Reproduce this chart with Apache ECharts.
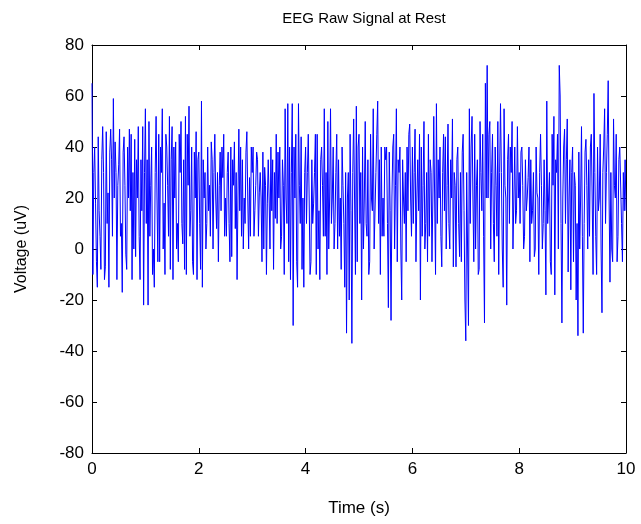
<!DOCTYPE html>
<html>
<head>
<meta charset="utf-8">
<title>EEG Raw Signal at Rest</title>
<script src="https://cdn.jsdelivr.net/npm/echarts@6/dist/echarts.min.js"></script>
<style>
  html, body { margin: 0; padding: 0; background: #fff; }
  #chart { width: 641px; height: 524px; }
</style>
</head>
<body>
<div id="chart"></div>
<script>
// sample spacing of the recording (s), 60 samples per second
var sampleStep = 1 / 60;

// voltage samples (uV), one row per half second
var voltage = [
  65, -10, 30, 40, 18, -5, -15, 44, 15, 5, -8, 35, 48, 30, -12, -7, 46, 10, 22, -15, 38, 47, 35, 5, 59, 20, 42, 30, -12, 25,
  33, 47, 5, 10, -17, 38, 44, 25, -2, -8, 40, 20, 47, 15, 45, -12, 30, 0, 43, -3, 35, 20, 48, 5, -12, 35, 15, 48, -22, 30,
  55, 10, 35, -22, 50, 5, 25, 40, -10, 0, -15, 30, 52, 20, -5, 45, -5, 40, 30, 55, 0, 18, -10, 45, 40, 25, 5, 52, -8, 35,
  48, -12, 40, 20, 42, 0, 10, -5, 45, 30, 50, 10, 2, 35, -8, 52, -10, 45, 25, 56, 5, 15, 40, -5, -10, 38, 20, 46, -12, 35,
  38, 10, -8, 58, -15, 35, 20, 30, 0, 10, 40, 15, 25, 5, 42, 35, 0, 30, 45, 20, 8, 30, -5, 25, 38, 15, 40, 28, 45, 5,
  20, 5, 30, 38, 10, -5, 40, -3, 35, 25, 42, 8, 30, -12, 20, 47, 15, 40, 5, 35, 0, 20, 10, 38, 46, 20, 0, 28, 5, 40,
  30, 40, 5, 15, 25, 38, 35, 5, 22, 30, 20, -5, 38, 0, 32, 25, -10, 18, 35, 20, 0, 40, 15, 35, -8, 30, 12, 45, 10, 38,
  20, 40, 0, 5, 35, 25, -10, 55, 20, 10, 57, -5, 40, -12, 30, 57, -30, 40, 20, 45, -5, -15, 57, 25, 10, 44, -8, 20, -15, 30,
  40, 10, 30, 45, 20, -10, -5, 35, 10, 18, 30, 45, -10, 45, 0, 15, -12, 35, 40, 25, 5, 55, 5, 30, -10, 50, 0, 20, 55, 10,
  20, 40, 0, 10, 30, 45, 0, 35, 5, 20, -8, 40, 25, 10, -15, 30, -33, 20, 30, -20, 45, 15, -37, 30, 51, 20, -10, 56, -5, 40,
  45, 10, 30, -20, 40, 0, 20, 50, 10, 5, 35, -10, -5, 45, 20, 15, 55, 0, 0, 30, 45, 58, 10, 35, -10, 40, 5, 20, 5, 40,
  35, 40, 10, -23, 38, 15, -28, 20, 40, 45, 0, 25, 55, -5, 35, 30, 40, 0, -20, 35, 20, 10, 30, -5, 40, 15, 45, 49, 20, 5,
  40, 10, 30, 47, -5, 20, 35, 15, 45, -20, 40, 5, 25, 50, 0, 10, 30, -5, 45, 5, 35, 30, -5, 20, 52, 20, -10, 57, 10, 35,
  20, 40, 5, -7, 30, 45, 15, 44, 0, 25, 49, 10, 0, 35, 20, 51, -7, 30, 25, -7, 35, 40, 10, -3, 30, -5, 38, 45, 15, -20,
  -36, 30, 0, -30, 55, 10, 40, 52, 20, -5, 45, 0, 25, 35, -10, -8, 50, 30, 15, 45, 5, -29, 65, 20, 72, 20, 45, 50, 0, 30,
  45, 10, -5, 40, 25, 5, 50, -10, 30, 57, 30, 0, -15, 55, 25, 20, -22, 35, 45, 10, 40, 30, 50, 0, 20, 40, 10, 15, 48, 20,
  30, 10, 38, 40, 25, 0, 5, 35, 15, 20, 28, 40, -5, 35, 10, 15, 30, -3, 0, 40, 22, 20, -10, 30, 45, 25, 0, 10, 35, 15,
  -18, 58, 10, 20, 30, -5, -10, 45, 25, 52, -18, 35, 30, 45, 0, 72, 60, 10, -29, 20, 40, 47, 10, 35, 51, -9, 20, 35, -16, 30,
  40, -5, 30, 25, -20, 10, -34, 38, 0, 20, 48, 5, -33, 10, 38, 43, 25, 0, 35, 5, 40, 45, 20, -10, 61, 30, 5, -10, 40, 15,
  20, 45, 0, -25, 30, 40, 55, 10, 30, 45, 66, 20, -13, 30, 0, -5, 51, 25, 20, 45, -5, 5, 35, 40, 40, 10, -5, 30, 15, 35,
  15
];

var xTicks = [0, 2, 4, 6, 8, 10];
var yTicks = [-80, -60, -40, -20, 0, 20, 40, 60, 80];

var points = voltage.map(function (v, i) {
  return [+(i * sampleStep).toFixed(4), v];
});

var font = 'Liberation Sans, Arial, sans-serif';

function boxAxis(pos, min, max, interval, labels) {
  return {
    type: 'value',
    position: pos,
    min: min,
    max: max,
    interval: interval,
    splitLine: { show: false },
    axisLine: { show: true, onZero: false, lineStyle: { color: '#000', width: 1 } },
    axisTick: { show: true, inside: true, length: 5, lineStyle: { color: '#000' } },
    axisLabel: { show: labels, color: '#000', fontSize: 17, fontFamily: font, margin: 8 }
  };
}

var chart = echarts.init(document.getElementById('chart'));

var xMain = boxAxis('bottom', xTicks[0], xTicks[xTicks.length - 1], 2, true);
xMain.name = 'Time (s)';
xMain.nameLocation = 'middle';
xMain.nameGap = 47;
xMain.nameTextStyle = { color: '#000', fontSize: 17, fontFamily: font };

var yMain = boxAxis('left', yTicks[0], yTicks[yTicks.length - 1], 20, true);
yMain.name = 'Voltage (uV)';
yMain.nameLocation = 'middle';
yMain.nameGap = 62;
yMain.nameTextStyle = { color: '#000', fontSize: 16, fontFamily: font };

chart.setOption({
  animation: false,
  backgroundColor: '#fff',
  title: {
    text: 'EEG Raw Signal at Rest',
    left: 359,
    top: 6,
    textAlign: 'center',
    textStyle: { color: '#000', fontSize: 15, fontWeight: 'normal', fontFamily: font }
  },
  grid: { left: 92, right: 15, top: 45, bottom: 71 },
  xAxis: [xMain, boxAxis('top', 0, 10, 2, false)],
  yAxis: [yMain, boxAxis('right', -80, 80, 20, false)],
  series: [{
    type: 'line',
    data: points,
    xAxisIndex: 0,
    yAxisIndex: 0,
    showSymbol: false,
    lineStyle: { color: '#0000ff', width: 1 },
    itemStyle: { color: '#0000ff' }
  }]
});
</script>
</body>
</html>
